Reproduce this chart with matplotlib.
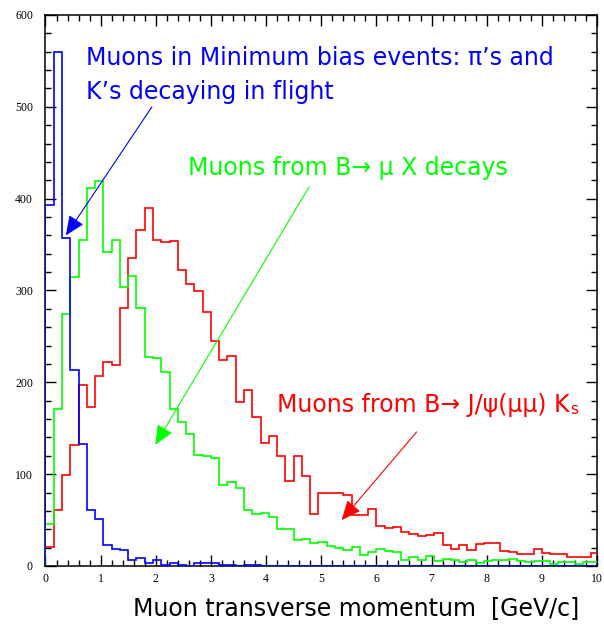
import matplotlib
matplotlib.use("Agg")
import matplotlib.pyplot as plt
import numpy as np
from matplotlib.ticker import MultipleLocator

# ---- histogram contents (bin width 0.15 GeV/c, starting at 0) ----------------
bin_width = 0.15

minbias = [393, 560, 357, 213, 133, 61, 51, 23, 19, 17,
           7, 9, 3, 6, 1, 3, 1, 0, 3, 3,
           3, 1, 1, 0, 1, 1, 0, 0, 0, 0,
           0, 0, 0, 0, 0, 0, 0, 0, 0, 0,
           0, 0, 0, 0, 0, 0, 0, 0, 0, 0,
           0, 0, 0, 0, 0, 0, 0, 0, 0, 0,
           0, 0, 0, 0, 0, 0, 0]

b_to_mu = [46, 171, 274, 315, 355, 412, 419, 342, 355, 304,
           316, 281, 228, 226, 211, 171, 157, 144, 121, 120,
           118, 88, 91, 85, 61, 57, 58, 53, 40, 40,
           28, 29, 25, 26, 22, 20, 17, 21, 12, 15,
           18, 16, 15, 7, 10, 7, 11, 5, 8, 6,
           4, 7, 3, 5, 7, 7, 8, 5, 4, 5,
           5, 2, 4, 4, 2, 4, 4]

b_to_jpsi = [21, 61, 99, 132, 197, 173, 207, 222, 219, 281,
             335, 366, 390, 355, 353, 354, 322, 307, 299, 277,
             245, 224, 229, 179, 192, 162, 134, 142, 120, 93,
             120, 98, 57, 80, 80, 80, 77, 55, 55, 62,
             44, 41, 42, 37, 35, 33, 34, 36, 23, 19,
             23, 17, 24, 25, 25, 16, 15, 13, 13, 19,
             14, 13, 13, 10, 10, 10, 14]

x_ticks = [0, 1, 2, 3, 4, 5, 6, 7, 8, 9, 10]
y_ticks = [0, 100, 200, 300, 400, 500, 600]

sans = ["DejaVu Sans"]
serif = ["Liberation Serif", "DejaVu Serif"]

edges = np.arange(len(minbias) + 1) * bin_width

fig = plt.figure(figsize=(6.04, 6.25), dpi=100)
ax = fig.add_axes([0.0753, 0.0944, 0.9131, 0.8816])

ax.stairs(b_to_jpsi, edges, baseline=0, color="#ff0000", lw=1.2, zorder=3)
ax.stairs(b_to_mu, edges, baseline=0, color="#00ff00", lw=1.2, zorder=3)
ax.stairs(minbias, edges, baseline=0, color="#0000ff", lw=1.2, zorder=4)

ax.set_xlim(0, 10)
ax.set_ylim(0, 600)
ax.set_xticks(x_ticks)
ax.set_yticks(y_ticks)
ax.set_xticklabels([str(t) for t in x_ticks], family=serif, fontsize=8.5)
ax.set_yticklabels([str(t) for t in y_ticks], family=serif, fontsize=8.5)
ax.xaxis.set_minor_locator(MultipleLocator(0.2))
ax.yaxis.set_minor_locator(MultipleLocator(20))
ax.tick_params(which="both", direction="in", top=True, right=True, width=1.0)
ax.tick_params(which="major", length=8)
ax.tick_params(which="minor", length=4.3)
ax.tick_params(axis="x", which="major", pad=5)
ax.tick_params(axis="y", which="major", pad=9)
for sp in ax.spines.values():
    sp.set_linewidth(1.1)

# ---- annotations ---------------------------------------------------------------
ax.text(0.73, 546, "Muons in Minimum bias events: \u03c0\u2019s and",
        color="#0000ff", fontsize=17, family=sans, va="baseline")
ax.text(0.73, 508, "K\u2019s decaying in flight",
        color="#0000ff", fontsize=17, family=sans, va="baseline")
ax.text(2.59, 426, "Muons from B\u2192 \u03bc X decays",
        color="#00ff00", fontsize=17, family=sans, va="baseline")
red_txt = ax.text(4.19, 168, "Muons from B\u2192 J/\u03c8(\u03bc\u03bc) K",
                  color="#ff0000", fontsize=17, family=sans, va="baseline")
ax.annotate("s", xy=(1, 0), xycoords=red_txt, xytext=(1, 0),
            textcoords="offset points", color="#ff0000", fontsize=11,
            family=sans, va="bottom", ha="left")

arrows = [
    ((0.37, 360), (1.93, 500), "#0000ff"),
    ((1.99, 132), (4.78, 413), "#00ff00"),
    ((5.37, 50), (6.73, 146), "#ff0000"),
]
for tip, start, col in arrows:
    ax.annotate("", xy=tip, xytext=start,
                arrowprops=dict(arrowstyle="-|>,head_length=0.8,head_width=0.35",
                                color=col, lw=0.8, mutation_scale=15,
                                shrinkA=0, shrinkB=0),
                zorder=5)

fig.text(0.22, 0.016, "Muon transverse momentum  [GeV/c]",
         fontsize=17, family=sans, va="baseline")

fig.savefig("out.png", dpi=100)
